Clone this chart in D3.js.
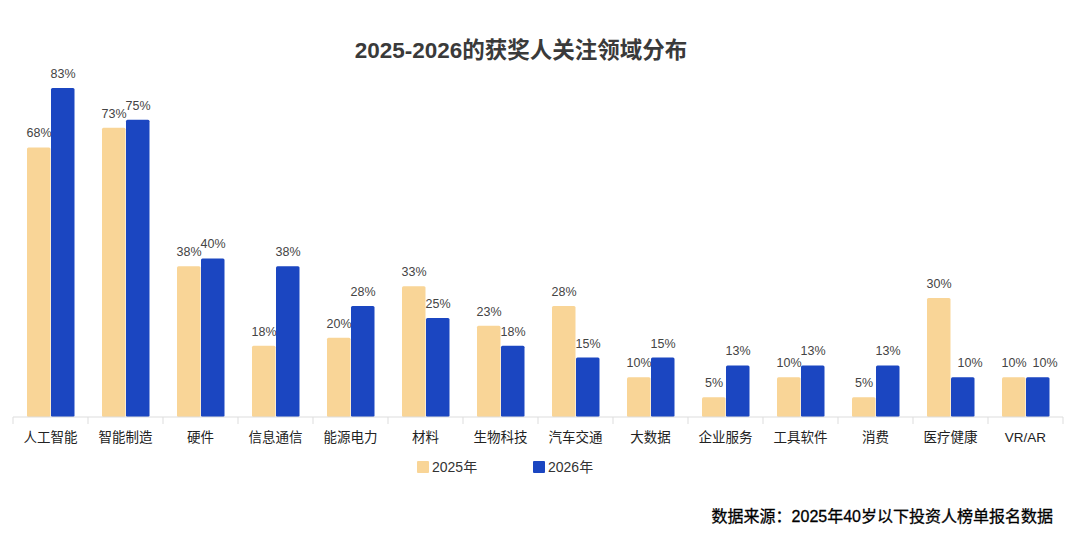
<html>
<head>
<meta charset="utf-8">
<script src="https://d3js.org/d3.v7.min.js"></script>
<style>
  body { margin: 0; background: #fff; }
  text { font-family: "Liberation Sans", "Noto Sans CJK SC", sans-serif; }
</style>
</head>
<body>
<svg id="svg" width="1080" height="542"></svg>
<script>
var categories = ["人工智能", "智能制造", "硬件", "信息通信", "能源电力", "材料", "生物科技", "汽车交通", "大数据", "企业服务", "工具软件", "消费", "医疗健康", "VR/AR"];
var series = ["2025年", "2026年"];
var values2025 = [68, 73, 38, 18, 20, 33, 23, 28, 10, 5, 10, 5, 30, 10];
var values2026 = [83, 75, 40, 38, 28, 25, 18, 15, 15, 13, 13, 13, 10, 10];
var colors = ["#F9D597", "#1B46C1"];

var svg = d3.select("svg");
var left = 13, right = 1063, baseY = 417;

var x = d3.scaleBand().domain(categories).range([left, right]).paddingInner(0).paddingOuter(0);
var xSub = d3.scaleBand().domain(series).range([14, 62]);
var y = d3.scaleLinear().domain([0, 100]).range([baseY, baseY - 396.4]);

svg.append("text")
    .attr("x", 521).attr("y", 58)
    .attr("text-anchor", "middle")
    .attr("font-size", 22.5).attr("font-weight", "bold")
    .attr("fill", "#3a3a3a")
    .text("2025-2026的获奖人关注领域分布");

var data = [values2025, values2026];
var groups = svg.append("g");
series.forEach(function(s, si) {
    categories.forEach(function(c, ci) {
        var v = data[si][ci];
        var bx = x(c) + xSub(s);
        groups.append("rect")
            .attr("x", bx).attr("y", y(v))
            .attr("width", xSub.bandwidth() - 0.5).attr("height", baseY - y(v))
            .attr("rx", 1.5)
            .attr("fill", colors[si]);
        // the last two blue labels sit a little to the right in the original
        var dx = (si === 1 && ci >= 12) ? 7 : 0;
        groups.append("text")
            .attr("x", bx + xSub.bandwidth() / 2 + dx).attr("y", y(v) - 10)
            .attr("text-anchor", "middle")
            .attr("font-size", 12.5).attr("fill", "#444")
            .text(v + "%");
    });
});

// axis
var axis = svg.append("g").attr("transform", "translate(0," + baseY + ")");
axis.append("line").attr("x1", left).attr("x2", right).attr("stroke", "#ddd");
var tickPos = categories.map(function(c) { return x(c); }).concat([right]);
axis.selectAll(".tk").data(tickPos).enter().append("line")
    .attr("x1", function(d) { return d; }).attr("x2", function(d) { return d; })
    .attr("y1", 0).attr("y2", 7).attr("stroke", "#ddd");
axis.selectAll(".lb").data(categories).enter().append("text")
    .attr("x", function(d) { return x(d) + x.bandwidth() / 2; })
    .attr("y", 25)
    .attr("text-anchor", "middle")
    .attr("font-size", 13.5).attr("fill", "#222")
    .text(function(d) { return d; });

// legend
var legendX = [417, 533];
series.forEach(function(s, i) {
    svg.append("rect").attr("x", legendX[i]).attr("y", 461).attr("width", 12).attr("height", 12)
        .attr("rx", 1).attr("fill", colors[i]);
    svg.append("text").attr("x", legendX[i] + 15).attr("y", 472)
        .attr("font-size", 14).attr("fill", "#333").text(s);
});

svg.append("text")
    .attr("x", 1053).attr("y", 522)
    .attr("text-anchor", "end")
    .attr("font-size", 16).attr("fill", "#000")
    .attr("stroke", "#000").attr("stroke-width", 0.3)
    .text("数据来源：2025年40岁以下投资人榜单报名数据");
</script>
</body>
</html>
